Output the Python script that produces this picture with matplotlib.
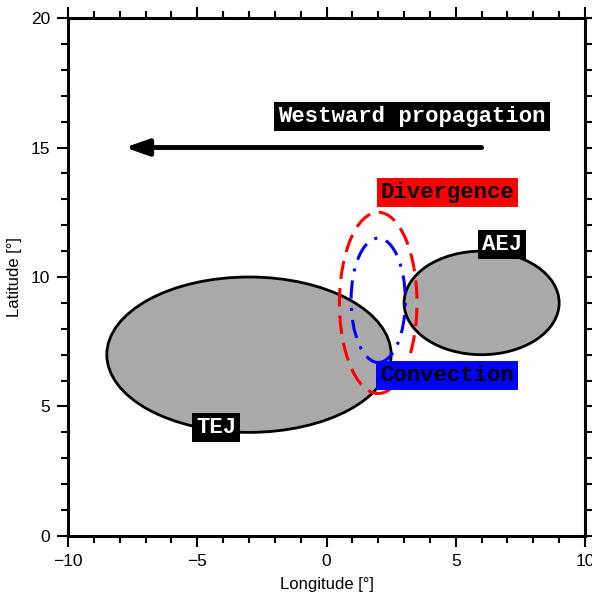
import matplotlib
matplotlib.use("Agg")
import matplotlib.pyplot as plt
from matplotlib.patches import Ellipse
from matplotlib.ticker import MultipleLocator

# Data
jet_names = ["TEJ", "AEJ"]
jet_cx = [-3.0, 6.0]
jet_cy = [7.0, 9.0]
jet_w = [11.0, 6.0]
jet_h = [6.0, 4.0]

div_center = (2.0, 9.0)
div_size = (3.0, 7.0)
conv_center = (2.0, 9.1)
conv_size = (2.1, 4.8)

arrow_start = (6.0, 15.0)
arrow_end = (-7.8, 15.0)

label_texts = ["Westward propagation", "Divergence", "AEJ", "Convection", "TEJ"]
label_x = [3.31, 4.68, 6.79, 4.65, -4.26]
label_y = [16.2, 13.25, 11.24, 6.2, 4.19]
label_fc = ["black", "#ff0000", "black", "#0000ff", "black"]
label_tc = ["white", "black", "white", "black", "white"]

fig = plt.figure(figsize=(5.92, 5.95), dpi=100)
ax = fig.add_axes([0.1149, 0.0992, 0.8733, 0.8705])
ax.set_xlim(-10, 10)
ax.set_ylim(0, 20)

for cx, cy, w, h in zip(jet_cx, jet_cy, jet_w, jet_h):
    ax.add_patch(Ellipse((cx, cy), w, h, facecolor="#a9a9a9", edgecolor="black", lw=2, zorder=2))

ax.add_patch(Ellipse(div_center, div_size[0], div_size[1], facecolor="none", edgecolor="#ff0000",
                     lw=2.2, linestyle=(0, (6, 3)), zorder=3))
ax.add_patch(Ellipse(conv_center, conv_size[0], conv_size[1], facecolor="none", edgecolor="#0000ff",
                     lw=2.2, linestyle=(0, (6, 3, 1, 3)), zorder=3))

ax.annotate("", xy=arrow_end, xytext=arrow_start,
            arrowprops=dict(arrowstyle="-|>,head_length=1.0,head_width=0.35", lw=3.5, color="black",
                            mutation_scale=14, shrinkA=0, shrinkB=0), zorder=4)

for t, x, y, fc, tc in zip(label_texts, label_x, label_y, label_fc, label_tc):
    ax.text(x, y, t, ha="center", va="center", color=tc, fontsize=16,
            family="Liberation Mono", fontweight="bold",
            bbox=dict(boxstyle="square,pad=0.18", facecolor=fc, edgecolor="none"), zorder=5)

for s in ax.spines.values():
    s.set_linewidth(2.2)
ax.xaxis.set_major_locator(MultipleLocator(5))
ax.xaxis.set_minor_locator(MultipleLocator(1))
ax.yaxis.set_major_locator(MultipleLocator(5))
ax.yaxis.set_minor_locator(MultipleLocator(1))
ax.tick_params(which="both", direction="out", top=True, right=True, width=1.5,
               labelsize=12.5, labelfontfamily="Liberation Sans")
ax.tick_params(which="major", length=8, pad=5)
ax.tick_params(which="minor", length=5)
ax.set_xlabel("Longitude [°]", fontsize=12, family="Liberation Sans", labelpad=6)
ax.set_ylabel("Latitude [°]", fontsize=12, family="Liberation Sans", labelpad=6)

fig.savefig("out.png", dpi=100)
